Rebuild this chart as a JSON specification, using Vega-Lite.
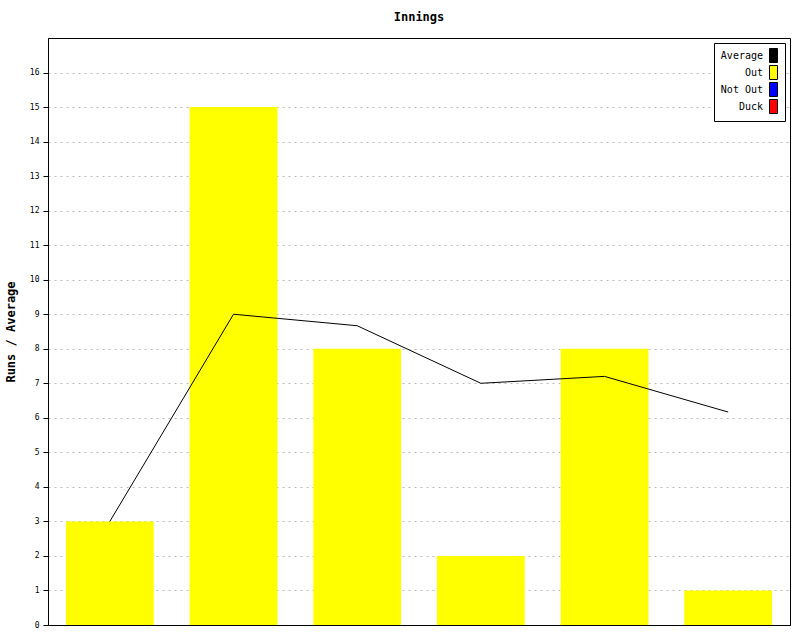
{
  "$schema": "https://vega.github.io/schema/vega-lite/v6.json",
  "autosize": {"type": "none"},
  "width": 742,
  "height": 587,
  "padding": {"left": 48, "top": 38, "right": 10, "bottom": 15},
  "background": "white",
  "config": {
    "font": "DejaVu Sans Mono",
    "view": {"stroke": "black", "strokeWidth": 1},
    "axisY": {
      "titleFont": "DejaVu Sans Mono",
      "titleFontSize": 12,
      "titleFontWeight": "bold",
      "titleColor": "black",
      "titlePadding": 12,
      "labelOverlap": false,
      "labelFont": "DejaVu Sans Mono",
      "labelFontSize": 8,
      "labelColor": "black",
      "labelPadding": 4,
      "domainColor": "black",
      "tickColor": "black",
      "tickSize": 5,
      "grid": true,
      "gridColor": "#bbbbbb",
      "gridDash": [2, 4],
      "gridWidth": 1
    }
  },
  "title": {
    "text": "Innings",
    "font": "DejaVu Sans Mono",
    "fontSize": 12,
    "fontWeight": "bold",
    "color": "black",
    "anchor": "middle",
    "frame": "group",
    "offset": 14
  },
  "data": {
    "values": [
      {"innings": 1, "runs": 3, "average": 3, "type": "Out"},
      {"innings": 2, "runs": 15, "average": 9, "type": "Out"},
      {"innings": 3, "runs": 8, "average": 8.667, "type": "Out"},
      {"innings": 4, "runs": 2, "average": 7, "type": "Out"},
      {"innings": 5, "runs": 8, "average": 7.2, "type": "Out"},
      {"innings": 6, "runs": 1, "average": 6.167, "type": "Out"}
    ]
  },
  "encoding": {
    "x": {
      "field": "innings",
      "type": "ordinal",
      "axis": {"title": null, "labels": false, "ticks": false, "domain": true, "domainColor": "black", "grid": false, "zindex": 1},
      "scale": {"paddingInner": 0.29, "paddingOuter": 0.145}
    }
  },
  "layer": [
    {
      "mark": {"type": "bar"},
      "encoding": {
        "y": {
          "field": "runs",
          "type": "quantitative",
          "scale": {"domain": [0, 17], "nice": false},
          "axis": {
            "title": "Runs / Average",
            "values": [0,1,2,3,4,5,6,7,8,9,10,11,12,13,14,15,16]
          }
        },
        "color": {
          "field": "type",
          "type": "nominal",
          "scale": {
            "domain": ["Average", "Out", "Not Out", "Duck"],
            "range": ["black", "#ffff00", "#0000ff", "#ff0000"]
          },
          "legend": {
            "title": null,
            "orient": "top-right",
            "offset": 5,
            "padding": 5,
            "strokeColor": "black",
            "fillColor": "white",
            "symbolType": "M-0.57,-1H0.57V1H-0.57Z",
            "symbolSize": 196,
            "symbolStrokeColor": "black",
            "symbolStrokeWidth": 1,
            "symbolOpacity": 1,
            "symbolOffset": 47,
            "labelFont": "DejaVu Sans Mono",
            "labelFontSize": 10,
            "labelColor": "black",
            "labelAlign": "right",
            "labelOffset": -18,
            "rowPadding": -2
          }
        }
      }
    },
    {
      "mark": {"type": "line", "color": "black", "strokeWidth": 1},
      "encoding": {
        "y": {
          "field": "average",
          "type": "quantitative",
          "axis": {
            "title": "Runs / Average",
            "values": [0,1,2,3,4,5,6,7,8,9,10,11,12,13,14,15,16]
          }
        }
      }
    }
  ]
}
